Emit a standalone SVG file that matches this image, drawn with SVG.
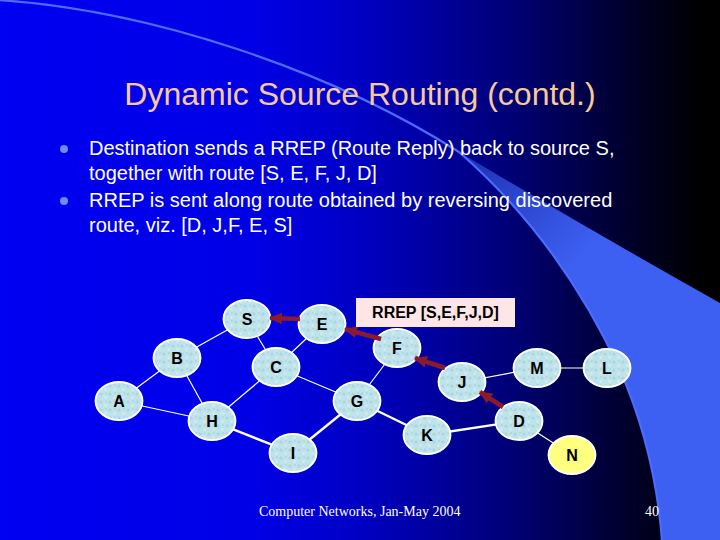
<svg xmlns="http://www.w3.org/2000/svg" width="720" height="540" viewBox="0 0 720 540">
<defs>
<linearGradient id="bg" x1="0" y1="0" x2="1" y2="0">
<stop offset="0" stop-color="#0000f2"/>
<stop offset="0.35" stop-color="#0000e6"/>
<stop offset="0.5" stop-color="#0000c4"/>
<stop offset="0.7" stop-color="#00007a"/>
<stop offset="0.88" stop-color="#000028"/>
<stop offset="0.97" stop-color="#000000"/>
</linearGradient>
<linearGradient id="sw" gradientUnits="userSpaceOnUse" x1="460" y1="150" x2="580" y2="260">
<stop offset="0" stop-color="#1c2fb0"/>
<stop offset="1" stop-color="#3d60f2"/>
</linearGradient>
<pattern id="tex" width="9" height="8" patternUnits="userSpaceOnUse">
<rect width="9" height="8" fill="#bfe3ea"/>
<circle cx="2" cy="2" r="1.6" fill="#abd5dd"/>
<circle cx="6.5" cy="5.5" r="1.4" fill="#d0ecf1"/>
<circle cx="7" cy="1" r="0.9" fill="#abd5dd"/>
</pattern>
<marker id="ah" markerUnits="userSpaceOnUse" markerWidth="14" markerHeight="12" refX="12" refY="6" orient="auto">
<path d="M0,0 L13,6 L0,12 Z" fill="#8c1a2c"/>
</marker>
<style>
.node ellipse{fill:url(#tex);stroke:#ffffff;stroke-width:1.8}
.node text{font-family:"Liberation Sans",Arial,sans-serif;font-weight:bold;font-size:16px;fill:#000;text-anchor:middle}
.n2 ellipse{fill:#ffff80}
.e{stroke:#ffffff;stroke-width:1.2;fill:none}
.e2{stroke:#ffffff;stroke-width:2.4;fill:none}
.r{stroke:#8c1a2c;stroke-width:4.5;fill:none;marker-end:url(#ah)}
.body{font-family:"Liberation Sans",Arial,sans-serif;font-size:20px;fill:#ffffff}
.foot{font-family:"Liberation Serif","Times New Roman",serif;font-size:14px;fill:#ffffff}
</style>
</defs>
<rect width="720" height="540" fill="url(#bg)"/>
<path d="M459,152 Q590,230 720,303 L720,540 L662,540 Q655,450 620,370 Q560,240 459,152 Z" fill="url(#sw)"/>
<path d="M-2,0 C150,10 330,70 459,152 Q560,240 620,370 Q655,450 662,540" stroke="#4a6cff" stroke-width="2.2" fill="none"/>
<text x="360" y="105" text-anchor="middle" font-family="'Liberation Sans',Arial,sans-serif" font-size="32" fill="#f7c99b">Dynamic Source Routing (contd.)</text>
<circle cx="64" cy="149" r="4" fill="#6a8cff"/>
<circle cx="64" cy="201" r="4" fill="#6a8cff"/>
<text class="body" x="89" y="155">Destination sends a RREP (Route Reply) back to source S,</text>
<text class="body" x="89" y="180">together with route [S, E, F, J, D]</text>
<text class="body" x="89" y="207">RREP is sent along route obtained by reversing discovered</text>
<text class="body" x="89" y="232">route, viz. [D, J,F, E, S]</text>
<g id="connectors">
<line class="e" x1="247" y1="319" x2="177" y2="358"/>
<line class="e" x1="247" y1="319" x2="276" y2="367"/>
<line class="e" x1="322" y1="324" x2="276" y2="367"/>
<line class="e" x1="177" y1="358" x2="119" y2="401"/>
<line class="e" x1="177" y1="358" x2="212" y2="421"/>
<line class="e" x1="119" y1="401" x2="212" y2="421"/>
<line class="e" x1="276" y1="367" x2="212" y2="421"/>
<line class="e" x1="276" y1="367" x2="357" y2="401"/>
<line class="e" x1="357" y1="401" x2="397" y2="348"/>
<line class="e2" x1="357" y1="401" x2="293" y2="453"/>
<line class="e2" x1="212" y1="421" x2="293" y2="453"/>
<line class="e2" x1="357" y1="401" x2="427" y2="435"/>
<line class="e2" x1="427" y1="435" x2="519" y2="421"/>
<line class="e" x1="462" y1="382" x2="537" y2="368"/>
<line class="e" x1="537" y1="368" x2="607" y2="368"/>
<line class="e" x1="519" y1="421" x2="572" y2="455"/>
</g>
<g id="node-S" class="node"><ellipse cx="247" cy="319" rx="23.5" ry="19"/><text x="247" y="325">S</text></g>
<g id="node-E" class="node"><ellipse cx="322" cy="324" rx="23.5" ry="19"/><text x="322" y="330">E</text></g>
<g id="node-F" class="node"><ellipse cx="397" cy="348" rx="23.5" ry="19"/><text x="397" y="354">F</text></g>
<g id="node-B" class="node"><ellipse cx="177" cy="358" rx="23.5" ry="19"/><text x="177" y="364">B</text></g>
<g id="node-C" class="node"><ellipse cx="276" cy="367" rx="23.5" ry="19"/><text x="276" y="373">C</text></g>
<g id="node-J" class="node"><ellipse cx="462" cy="382" rx="23.5" ry="19"/><text x="462" y="388">J</text></g>
<g id="node-M" class="node"><ellipse cx="537" cy="368" rx="23.5" ry="19"/><text x="537" y="374">M</text></g>
<g id="node-L" class="node"><ellipse cx="607" cy="368" rx="23.5" ry="19"/><text x="607" y="374">L</text></g>
<g id="node-A" class="node"><ellipse cx="119" cy="401" rx="23.5" ry="19"/><text x="119" y="407">A</text></g>
<g id="node-G" class="node"><ellipse cx="357" cy="401" rx="23.5" ry="19"/><text x="357" y="407">G</text></g>
<g id="node-H" class="node"><ellipse cx="212" cy="421" rx="23.5" ry="19"/><text x="212" y="427">H</text></g>
<g id="node-K" class="node"><ellipse cx="427" cy="435" rx="23.5" ry="19"/><text x="427" y="441">K</text></g>
<g id="node-D" class="node"><ellipse cx="519" cy="421" rx="23.5" ry="19"/><text x="519" y="427">D</text></g>
<g id="node-I" class="node"><ellipse cx="293" cy="453" rx="23.5" ry="19"/><text x="293" y="459">I</text></g>
<g id="node-N" class="node n2"><ellipse cx="572" cy="455" rx="23.5" ry="19"/><text x="572" y="461">N</text></g>
<g id="route-arrows">
<line class="r" x1="300" y1="319" x2="270" y2="318"/>
<line class="r" x1="381" y1="339" x2="345" y2="329"/>
<line class="r" x1="445" y1="368" x2="415" y2="358"/>
<line class="r" x1="503" y1="407" x2="480" y2="392"/>
</g>
<g id="rrep-label">
<rect x="356" y="298" width="159" height="29" fill="#ffe6e6"/>
<text x="435.5" y="318" text-anchor="middle" font-family="'Liberation Sans',Arial,sans-serif" font-weight="bold" font-size="16">RREP [S,E,F,J,D]</text>
</g>
<text class="foot" x="259" y="516">Computer Networks, Jan-May 2004</text>
<text class="foot" x="659" y="516" text-anchor="end">40</text>
</svg>
